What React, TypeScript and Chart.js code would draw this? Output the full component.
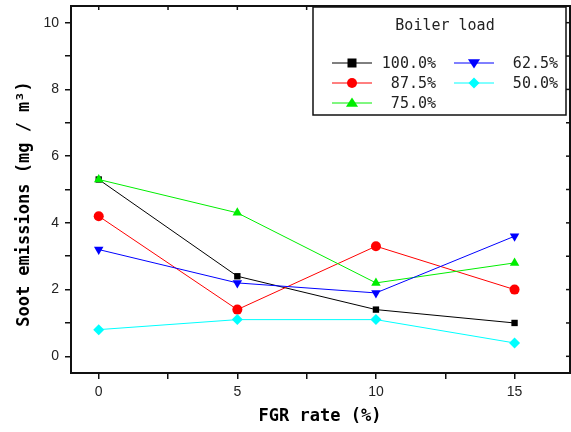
import React, { useEffect, useRef } from "react";
import { Chart, registerables } from "chart.js";

Chart.register(...registerables);

const fgrRates = [0, 5, 10, 15];
const seriesLabels = ["100.0%", "87.5%", "75.0%", "62.5%", "50.0%"];
const load100 = [5.3, 2.4, 1.4, 1.0];
const load875 = [4.2, 1.4, 3.3, 2.0];
const load75 = [5.3, 4.3, 2.2, 2.8];
const load625 = [3.2, 2.2, 1.9, 3.6];
const load50 = [0.8, 1.1, 1.1, 0.4];
const xTicks = [0, 2.5, 5, 7.5, 10, 12.5, 15];
const xTickLabels = [0, 5, 10, 15];
const yTicks = [0, 1, 2, 3, 4, 5, 6, 7, 8, 9, 10];
const yTickLabels = [0, 2, 4, 6, 8, 10];

const seriesValues = [load100, load875, load75, load625, load50];
const colors = ["#000000", "#ff0000", "#00ee00", "#0000ff", "#00ffff"];
const pointStyles = ["rect", "circle", "triangle", "triangle", "rectRot"];
const rotations = [0, 0, 0, 180, 0];
const radii = [4.5, 5, 5.5, 5.5, 5.5];

const MONO = "'DejaVu Sans Mono', 'Liberation Mono', monospace";
const SANS = "'Liberation Sans', Arial, sans-serif";

const zeroPad = (s: any) => {
  s.paddingTop = 0;
  s.paddingBottom = 0;
  s.paddingLeft = 0;
  s.paddingRight = 0;
};

const decorPlugin = {
  id: "decor",
  afterDraw(chart: any) {
    const ctx = chart.ctx;
    const { left, right, top, bottom } = chart.chartArea;
    const xs = chart.scales.x;
    const ys = chart.scales.y;
    ctx.save();
    ctx.strokeStyle = "#111";
    ctx.lineWidth = 2;
    ctx.strokeRect(left, top, right - left, bottom - top);
    ctx.lineWidth = 1.5;
    xs.ticks.forEach((t: any) => {
      const px = xs.getPixelForValue(t.value);
      ctx.beginPath();
      ctx.moveTo(px, top);
      ctx.lineTo(px, top + 4);
      ctx.stroke();
    });
    ys.ticks.forEach((t: any) => {
      const py = ys.getPixelForValue(t.value);
      ctx.beginPath();
      ctx.moveTo(right, py);
      ctx.lineTo(right - 4, py);
      ctx.stroke();
    });
    ctx.fillStyle = "#000";
    ctx.font = `bold 17px ${MONO}`;
    ctx.textAlign = "center";
    ctx.textBaseline = "middle";
    ctx.fillText("FGR rate (%)", 320, 417);
    ctx.save();
    ctx.translate(25, 204);
    ctx.rotate(-Math.PI / 2);
    ctx.fillText("Soot emissions (mg / m\u00B3)", 0, 0);
    ctx.restore();

    const bx = 313, by = 7, bw = 253, bh = 108;
    ctx.fillStyle = "#fff";
    ctx.fillRect(bx, by, bw, bh);
    ctx.strokeStyle = "#111";
    ctx.lineWidth = 1.5;
    ctx.strokeRect(bx, by, bw, bh);
    ctx.fillStyle = "#222";
    ctx.font = `15px ${MONO}`;
    ctx.fillText("Boiler load", 445, 26);
    const slots = [
      [332, 63], [332, 83], [332, 103], [454, 63], [454, 83],
    ];
    chart.data.datasets.forEach((ds: any, i: number) => {
      const [lx, ly] = slots[i];
      ctx.strokeStyle = ds.borderColor;
      ctx.lineWidth = 1;
      ctx.beginPath();
      ctx.moveTo(lx, ly);
      ctx.lineTo(lx + 40, ly);
      ctx.stroke();
      ctx.fillStyle = ds.backgroundColor;
      const cx = lx + 20;
      const r = ds.pointRadius;
      ctx.beginPath();
      const st = ds.pointStyle;
      if (st === "rect") {
        ctx.rect(cx - r, ly - r, 2 * r, 2 * r);
      } else if (st === "circle") {
        ctx.arc(cx, ly, r, 0, Math.PI * 2);
      } else if (st === "triangle") {
        const dir = ds.pointRotation === 180 ? -1 : 1;
        ctx.moveTo(cx, ly - dir * r);
        ctx.lineTo(cx - r * 1.1, ly + dir * r * 0.7);
        ctx.lineTo(cx + r * 1.1, ly + dir * r * 0.7);
        ctx.closePath();
      } else {
        ctx.moveTo(cx, ly - r);
        ctx.lineTo(cx + r, ly);
        ctx.lineTo(cx, ly + r);
        ctx.lineTo(cx - r, ly);
        ctx.closePath();
      }
      ctx.fill();
      ctx.fillStyle = "#222";
      ctx.textAlign = "right";
      ctx.font = `15px ${MONO}`;
      ctx.fillText(ds.label, lx + 104, ly + 1);
    });
    ctx.restore();
  },
};

export default function App() {
  const ref = useRef<HTMLCanvasElement>(null);
  useEffect(() => {
    if (!ref.current) return;
    const datasets = seriesValues.map((vals, i) => ({
      label: seriesLabels[i],
      data: fgrRates.map((x, j) => ({ x, y: vals[j] })),
      borderColor: colors[i],
      backgroundColor: colors[i],
      borderWidth: 1,
      pointStyle: pointStyles[i],
      pointRotation: rotations[i],
      pointRadius: radii[i],
      pointBorderWidth: 0,
      showLine: true,
      order: -i,
    }));
    const chart = new Chart(ref.current, {
      type: "scatter",
      data: { datasets },
      plugins: [decorPlugin],
      options: {
        animation: false,
        responsive: false,
        maintainAspectRatio: false,
        layout: { autoPadding: false, padding: { top: 6, right: 1, left: 0, bottom: 0 } },
        plugins: { legend: { display: false }, tooltip: { enabled: false } },
        scales: {
          x: {
            type: "linear",
            min: -1,
            max: 17,
            afterBuildTicks: (s: any) => { s.ticks = xTicks.map((value) => ({ value })); },
            afterFit: (s: any) => { s.height = 59; zeroPad(s); },
            border: { display: false },
            grid: { drawOnChartArea: false, drawTicks: true, tickLength: 6, color: "#111", lineWidth: 1.5 },
            ticks: {
              autoSkip: false,
              maxRotation: 0,
              padding: 5,
              color: "#222",
              font: { family: SANS, size: 14 },
              callback: (v: any) => (xTickLabels.includes(Number(v)) ? String(v) : ""),
            },
          },
          y: {
            type: "linear",
            min: -0.5,
            max: 10.5,
            afterBuildTicks: (s: any) => { s.ticks = yTicks.map((value) => ({ value })); },
            afterFit: (s: any) => { s.width = 71; zeroPad(s); },
            border: { display: false },
            grid: { drawOnChartArea: false, drawTicks: true, tickLength: 6, color: "#111", lineWidth: 1.5 },
            ticks: {
              autoSkip: false,
              padding: 6,
              color: "#222",
              font: { family: SANS, size: 14 },
              callback: (v: any) => (yTickLabels.includes(Number(v)) ? String(v) : ""),
            },
          },
        },
      },
    });
    return () => chart.destroy();
  }, []);
  return (
    <div style={{ position: "fixed", left: 0, top: 0, width: 571, height: 432, background: "#fff" }}>
      <canvas ref={ref} width={571} height={432} style={{ width: 571, height: 432 }} />
    </div>
  );
}
